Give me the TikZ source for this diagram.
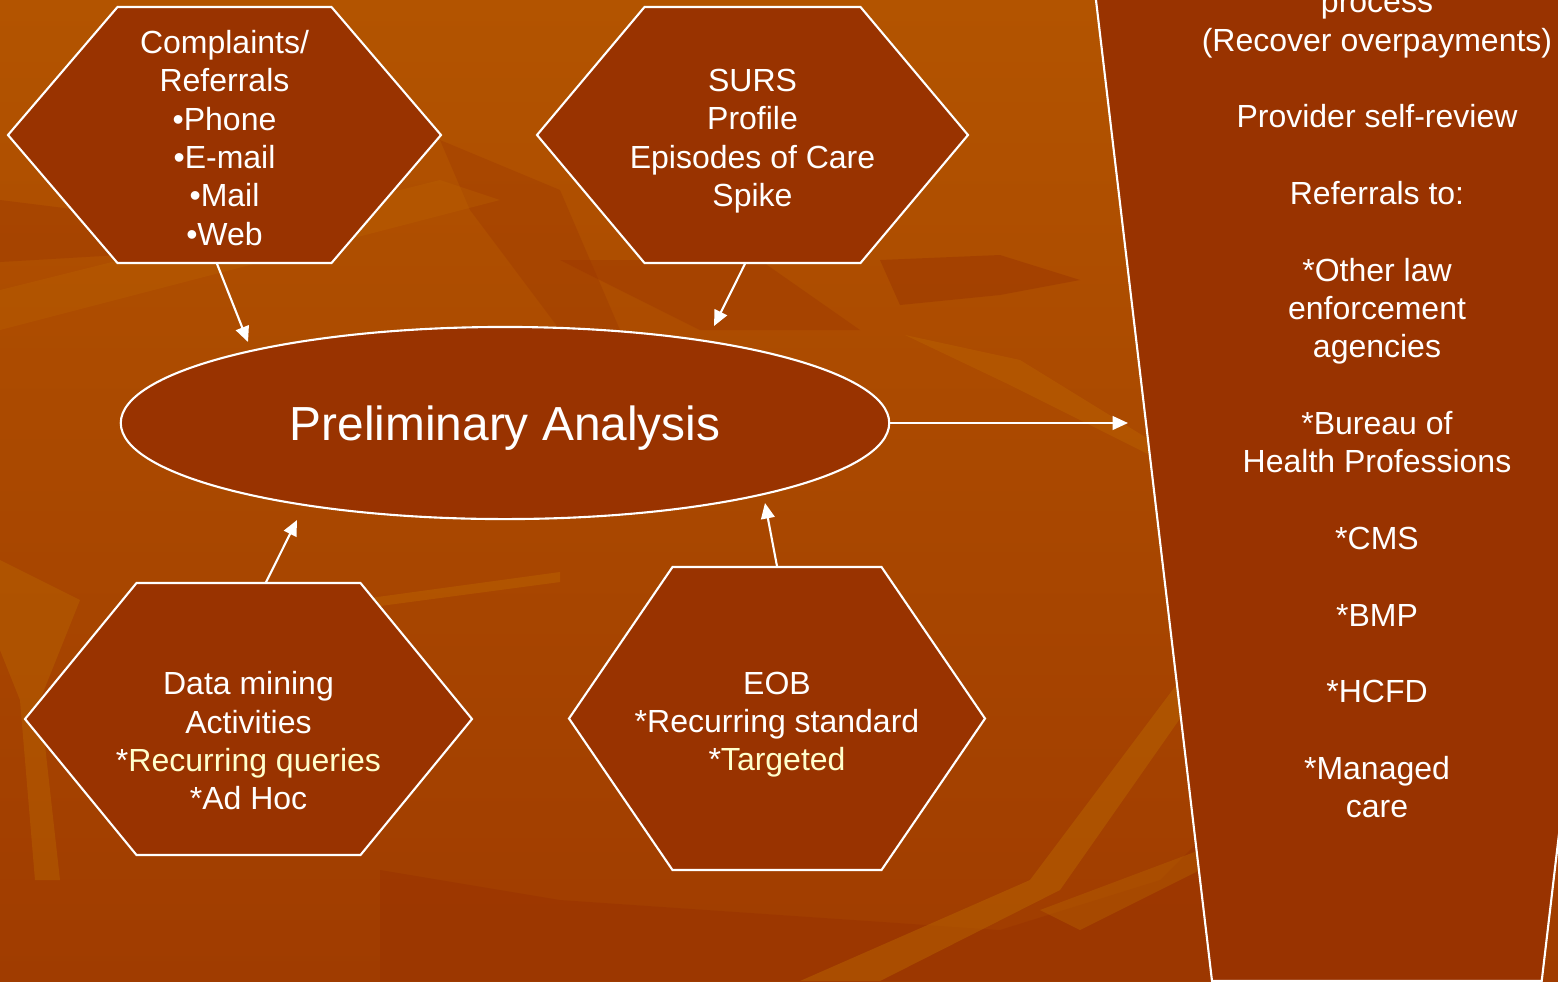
\documentclass[tikz,border=0pt]{standalone}
\usepackage{fontspec}
\setmainfont{Liberation Sans}
\usetikzlibrary{arrows.meta, calc, shapes.geometric}
\definecolor{slideRust}{HTML}{993300}
\definecolor{slideAmber}{HTML}{B35400}
\definecolor{slideEmber}{HTML}{A03C00}
\definecolor{slideGlow}{HTML}{C06A00}
\definecolor{slideStraw}{HTML}{B86400}
\definecolor{noteCream}{HTML}{FFFFCC}

\begin{document}
\begin{tikzpicture}[x=0.01cm,y=-0.01cm,
  cellfont/.style={font=\fontsize{9.1}{10.9}\selectfont},
  celltext/.style={cellfont,text=white,align=center,inner sep=0pt},
  flow/.style={draw=white,line width=0.6pt,-{Triangle[length=4.4pt,width=3.9pt]}}]
\useasboundingbox (0,0) rectangle (1558,981);
\clip (0,0) rectangle (1558,981);
% backdrop with a few shards
\shade[top color=slideAmber,bottom color=slideEmber] (0,0) rectangle (1558,981);
\fill[slideRust,opacity=0.55] (380,870) -- (560,900) -- (1000,930) -- (1160,880) -- (1240,800) -- (1300,981) -- (380,981) -- cycle;
\fill[slideRust,opacity=0.45] (880,260) -- (1000,255) -- (1080,280) -- (1000,295) -- (900,305) -- cycle;
\fill[slideRust,opacity=0.35] (0,200) -- (120,215) -- (120,255) -- (0,262) -- cycle;
\fill[slideRust,opacity=0.35] (560,260) -- (700,330) -- (860,330) -- (760,260) -- cycle;
\fill[slideRust,opacity=0.3] (440,140) -- (560,190) -- (620,330) -- (560,330) -- (470,210) -- cycle;
\fill[slideGlow,opacity=0.35] (905,335) -- (1020,360) -- (1150,440) -- (1150,455) -- (1010,385) -- cycle;
\fill[slideGlow,opacity=0.4] (370,598) -- (560,572) -- (560,582) -- (380,606) -- cycle;
\fill[slideStraw,opacity=0.5] (800,981) -- (1030,880) -- (1180,680) -- (1200,690) -- (1060,890) -- (880,981) -- cycle;
\fill[slideStraw,opacity=0.4] (1040,910) -- (1200,850) -- (1200,870) -- (1080,930) -- cycle;
\fill[slideStraw,opacity=0.45] (0,560) -- (80,600) -- (40,700) -- (60,880) -- (35,880) -- (20,700) -- (0,650) -- cycle;
\fill[slideGlow,opacity=0.25] (0,290) -- (440,180) -- (500,200) -- (0,330) -- cycle;
% hexagon cell: name, cx, cy, half width, half top edge, half height, text drop, text
\newcommand{\hexcell}[8]{%
  \filldraw[fill=slideRust,draw=white,line width=0.6pt]
    (#2-#4,#3) -- (#2-#5,#3-#6) -- (#2+#5,#3-#6) -- (#2+#4,#3) -- (#2+#5,#3+#6) -- (#2-#5,#3+#6) -- cycle;
  \node[inner sep=0pt,minimum width=2*#5*0.01cm,minimum height=#6*0.02cm] (#1) at (#2,#3) {};
  \node[celltext] (#1-text) at (#2,#3+#7) {#8};
}
\hexcell{intake}{224.5}{135}{216.5}{107}{128}{3}{Complaints/\\Referrals\\•Phone\\•E-mail\\•Mail\\•Web}
\hexcell{surs}{752.5}{135}{215.5}{108}{128}{6}{SURS\\Profile\\Episodes of Care\\Spike}
\hexcell{mining}{248.5}{719}{223.5}{112}{136}{22}{Data mining\\Activities\\*\textcolor{noteCream}{Recurring queries}\\*Ad Hoc}
\hexcell{eob}{777}{718.5}{208}{104.5}{151.5}{6}{EOB\\*Recurring standard\\*\textcolor{noteCream}{Targeted}}
% centre ellipse
\node[ellipse,fill=slideRust,draw=white,line width=0.6pt,minimum width=7.68cm,minimum height=1.92cm,
  text=white,text depth=0pt,font=\fontsize{13.6}{16}\selectfont] (prelim) at (505,423) {Preliminary Analysis};
% outcomes panel
\filldraw[fill=slideRust,draw=white,line width=0.6pt] (1093.6,-20) -- (1659.4,-20) -- (1541.7,981) -- (1212,981) -- cycle;
\node[celltext,anchor=north] (outcomes) at (1377,-5) {process\\(Recover overpayments)\\[10.9pt]
  Provider self-review\\[10.9pt]Referrals to:\\[10.9pt]*Other law\\enforcement\\agencies\\[10.9pt]
  *Bureau of\\Health Professions\\[10.9pt]*CMS\\[10.9pt]*BMP\\[10.9pt]*HCFD\\[10.9pt]*Managed\\care};
% connectors
\coordinate (tipA) at (248,342);
\coordinate (tipB) at (714,326);
\coordinate (tipC) at (297,520);
\coordinate (tipD) at (765,503);
\coordinate (tipE) at (1128,423);
\draw[flow] ($(intake.south)+(-7.5,0)$) -- (tipA);
\draw[flow] ($(surs.south)+(-7.5,0)$) -- (tipB);
\draw[flow] ($(mining.north)+(17.5,0)$) -- (tipC);
\draw[flow] (eob.north) -- (tipD);
\draw[flow] (prelim.east) -- (tipE);
\end{tikzpicture}
\end{document}
